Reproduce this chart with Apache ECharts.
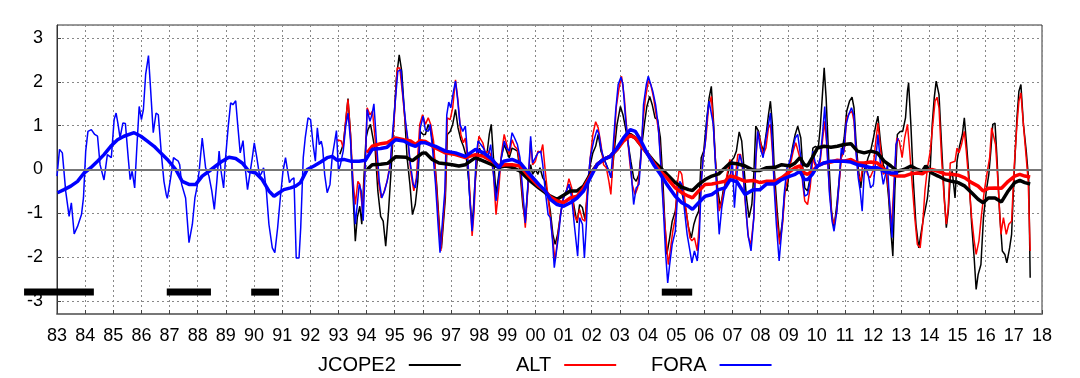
<!DOCTYPE html>
<html>
<head>
<meta charset="utf-8">
<script src="https://cdn.jsdelivr.net/npm/echarts@6/dist/echarts.min.js"></script>
<style>
  html, body { margin: 0; padding: 0; background: #fff; }
  #chart { width: 1080px; height: 378px; }
</style>
</head>
<body>
<div id="chart"></div>
<script>
// monthly-ish anomalies, [year, value]
const jcopeThin = [
  [1993.05,0.35],[1993.17,0.57],[1993.26,1.1],[1993.34,1.62],[1993.43,0.8],[1993.5,-0.34],[1993.6,-1.64],[1993.67,-1.1],[1993.76,-0.84],[1993.83,-1.25],[1993.9,-0.27],[1993.98,0.72],
  [1994.05,0.91],[1994.14,1.03],[1994.21,1.03],[1994.31,0.42],[1994.4,-0.49],[1994.5,-1.07],[1994.59,-1.18],[1994.68,-1.75],[1994.78,-0.95],[1994.87,-0.04],[1994.97,1.1],
  [1995.06,2.09],[1995.16,2.62],[1995.25,2.24],[1995.35,1.25],[1995.44,0.27],[1995.54,-0.34],[1995.63,-1.03],[1995.73,-0.8],[1995.82,-0.27],[1995.91,0.87],[1996.01,0.8],
  [1996.09,0.8],[1996.19,1.03],[1996.28,0.87],[1996.38,0.49],[1996.49,-0.34],[1996.59,-1.33],[1996.66,-1.8],[1996.8,-0.65],[1996.87,0.8],[1996.97,0.87],
  [1997.06,1.03],[1997.16,1.37],[1997.25,0.95],[1997.35,0.68],[1997.44,0.53],[1997.54,0.3],[1997.63,-0.27],[1997.7,-0.95],[1997.77,-1.18],[1997.84,-0.42],[1997.94,0.27],
  [1998.01,0.49],[1998.1,0.34],[1998.2,0.27],[1998.29,0.42],[1998.36,0.8],[1998.43,1.03],[1998.51,0.27],[1998.6,-0.57],[1998.7,-0.11],[1998.79,0.27],[1998.89,0.57],[1998.98,0.42],
  [1999.07,0.27],[1999.17,0.49],[1999.26,0.46],[1999.36,0.42],[1999.45,-0.04],[1999.55,-0.8],[1999.64,-1.18],[1999.74,-0.34],[1999.83,0.11],[1999.9,-0.11],
  [2000.0,0.0],[2000.09,-0.11],[2000.16,0.04],[2000.26,-0.19],[2000.35,-0.27],[2000.45,-0.65],[2000.53,-0.95],[2000.62,-1.48],[2000.7,-1.71],[2000.79,-1.48],[2000.89,-1.03],
  [2001.0,-0.61],[2001.1,-0.49],[2001.19,-0.34],[2001.29,-0.53],[2001.38,-0.87],[2001.48,-1.22],[2001.57,-0.8],[2001.67,-0.87],[2001.76,-1.14],[2001.86,-0.49],[2001.95,0.11],
  [2002.04,0.38],[2002.14,0.53],[2002.23,0.8],[2002.33,0.42],[2002.42,0.27],[2002.52,0.11],[2002.61,-0.04],[2002.71,-0.19],[2002.8,0.42],[2002.9,1.03],
  [2003.02,1.44],[2003.11,1.25],[2003.2,0.95],[2003.3,0.57],[2003.39,0.19],[2003.49,-0.19],[2003.58,-0.27],[2003.68,-0.11],[2003.77,0.49],[2003.87,1.03],[2003.96,1.44],
  [2004.06,1.67],[2004.15,1.48],[2004.25,1.18],[2004.34,1.14],[2004.44,0.72],[2004.53,-0.27],[2004.6,-1.25],[2004.67,-1.94],[2004.77,-1.56],[2004.86,-1.18],[2004.97,-0.95],
  [2005.06,-0.42],[2005.16,-0.42],[2005.25,-0.65],[2005.35,-0.95],[2005.44,-1.33],[2005.54,-1.56],[2005.63,-1.25],[2005.7,-1.1],[2005.8,-0.95],[2005.89,0.27],[2005.98,0.42],
  [2006.08,1.1],[2006.17,1.63],[2006.25,1.9],[2006.32,1.18],[2006.39,0.27],[2006.48,-0.49],[2006.58,-0.87],[2006.67,-0.49],[2006.77,-0.27],[2006.86,-0.04],[2006.95,0.19],
  [2007.05,0.27],[2007.14,0.42],[2007.24,0.86],[2007.33,0.65],[2007.43,-0.11],[2007.5,-0.65],[2007.59,-1.1],[2007.69,-0.8],[2007.76,-0.11],[2007.83,0.99],[2007.93,0.87],
  [2008.02,0.57],[2008.11,0.42],[2008.21,0.87],[2008.28,1.25],[2008.35,1.56],[2008.42,1.03],[2008.49,-0.04],[2008.59,-0.95],[2008.68,-1.63],[2008.78,-1.18],[2008.87,-0.42],[2008.94,-0.49],
  [2009.04,0.11],[2009.13,0.49],[2009.23,0.8],[2009.32,0.99],[2009.43,0.72],[2009.5,0.04],[2009.57,-0.42],[2009.67,-0.49],[2009.76,-0.19],[2009.86,0.49],[2009.95,0.53],
  [2010.05,0.49],[2010.12,0.95],[2010.19,1.63],[2010.26,2.32],[2010.33,1.63],[2010.42,0.27],[2010.52,-0.95],[2010.61,-1.33],[2010.71,-0.8],[2010.8,-0.19],[2010.87,0.34],[2010.97,0.72],
  [2011.06,1.33],[2011.16,1.56],[2011.25,1.65],[2011.32,1.41],[2011.39,0.65],[2011.47,0.04],[2011.56,-0.42],[2011.63,-0.04],[2011.73,0.04],[2011.82,0.27],[2011.91,0.42],
  [2012.01,0.72],[2012.1,1.03],[2012.17,1.22],[2012.27,0.57],[2012.36,0.11],[2012.46,-0.04],[2012.55,-0.65],[2012.63,-1.41],[2012.7,-1.98],[2012.77,-0.49],[2012.86,0.8],[2012.96,0.87],
  [2013.05,0.87],[2013.15,1.18],[2013.22,1.79],[2013.26,1.98],[2013.34,1.03],[2013.43,-0.27],[2013.52,-1.25],[2013.62,-1.79],[2013.69,-1.83],[2013.79,-1.1],[2013.84,-0.95],[2013.93,-0.65],
  [2014.03,0.04],[2014.1,1.03],[2014.17,1.63],[2014.24,2.02],[2014.34,1.71],[2014.43,0.57],[2014.53,-0.65],[2014.6,-1.33],[2014.67,-0.95],[2014.74,-0.19],[2014.81,-0.04],[2014.91,-0.65],[2014.98,0.19],
  [2015.07,0.53],[2015.17,0.8],[2015.24,1.18],[2015.31,0.65],[2015.4,-0.11],[2015.5,-1.25],[2015.59,-2.02],[2015.66,-2.74],[2015.73,-2.4],[2015.83,-2.17],[2015.92,-1.1],
  [2016.02,-0.49],[2016.11,-0.11],[2016.18,0.42],[2016.25,1.03],[2016.33,1.06],[2016.4,0.27],[2016.49,-0.95],[2016.59,-1.86],[2016.68,-1.94],[2016.75,-2.13],[2016.85,-1.79],[2016.92,-1.48],
  [2017.01,-0.11],[2017.11,1.18],[2017.18,1.79],[2017.25,1.94],[2017.34,1.03],[2017.44,0.42],[2017.53,-0.27],[2017.58,-2.47]
];

const altThin = [
  [1992.95,0.68],[1993.02,0.68],[1993.1,0.65],[1993.17,0.49],[1993.26,1.14],[1993.34,1.6],[1993.43,0.8],[1993.52,-0.27],[1993.6,-0.8],[1993.69,-0.27],[1993.76,-0.34],[1993.86,-0.95],[1993.95,0.11],
  [1994.02,1.41],[1994.12,1.25],[1994.21,1.33],[1994.31,0.65],[1994.42,-0.27],[1994.52,-0.65],[1994.61,-0.53],[1994.73,-0.27],[1994.85,0.19],[1994.97,1.03],
  [1995.09,2.32],[1995.18,2.32],[1995.28,1.71],[1995.37,1.1],[1995.47,0.65],[1995.58,-0.11],[1995.68,-0.49],[1995.77,-0.19],[1995.89,1.03],[1995.99,1.25],
  [1996.09,1.03],[1996.19,1.18],[1996.28,1.03],[1996.38,0.65],[1996.47,-0.27],[1996.57,-1.25],[1996.64,-1.86],[1996.71,-1.86],[1996.8,-0.49],[1996.87,1.18],[1996.97,1.14],
  [1997.06,1.41],[1997.16,2.05],[1997.25,1.56],[1997.35,0.8],[1997.44,0.61],[1997.51,0.72],[1997.61,0.11],[1997.68,-0.65],[1997.75,-1.52],[1997.82,-0.95],[1997.89,0.11],[1997.99,0.76],
  [1998.06,0.72],[1998.13,0.61],[1998.22,0.38],[1998.34,0.42],[1998.41,0.34],[1998.51,-0.11],[1998.6,-1.03],[1998.7,-0.42],[1998.79,0.34],[1998.89,0.8],[1998.98,0.57],
  [1999.07,0.34],[1999.17,0.68],[1999.26,0.53],[1999.36,0.46],[1999.45,0.11],[1999.55,-0.65],[1999.64,-1.33],[1999.74,-0.34],[1999.83,0.65],[1999.9,0.11],
  [2000.0,0.19],[2000.09,0.42],[2000.19,0.38],[2000.26,0.57],[2000.35,-0.04],[2000.45,-0.65],[2000.53,-1.1],[2000.62,-1.63],[2000.7,-2.09],[2000.79,-1.56],[2000.89,-1.03],
  [2001.0,-0.65],[2001.1,-0.49],[2001.19,-0.21],[2001.29,-0.42],[2001.38,-1.03],[2001.48,-1.18],[2001.57,-0.91],[2001.67,-1.14],[2001.76,-1.18],[2001.86,-0.34],[2001.95,0.27],
  [2002.04,0.8],[2002.14,1.09],[2002.23,0.95],[2002.33,0.57],[2002.42,0.11],[2002.52,0.04],[2002.61,-0.27],[2002.68,-0.57],[2002.78,0.42],[2002.87,1.41],[2002.97,1.86],
  [2003.06,2.13],[2003.16,1.63],[2003.25,0.87],[2003.35,0.19],[2003.44,-0.34],[2003.54,-0.57],[2003.63,-0.42],[2003.73,0.11],[2003.82,1.1],[2003.91,1.63],
  [2004.01,2.02],[2004.1,1.94],[2004.2,1.63],[2004.29,1.25],[2004.39,0.8],[2004.48,-0.11],[2004.58,-1.1],[2004.65,-1.63],[2004.72,-2.17],[2004.79,-1.86],[2004.88,-1.41],[2004.97,-1.1],
  [2005.04,-0.34],[2005.11,0.0],[2005.2,-0.11],[2005.3,-0.65],[2005.39,-1.1],[2005.49,-1.56],[2005.56,-1.63],[2005.65,-1.56],[2005.75,-1.86],[2005.82,-1.25],[2005.89,-0.27],[2005.96,0.27],
  [2006.06,0.72],[2006.15,1.41],[2006.25,1.67],[2006.32,1.03],[2006.39,0.27],[2006.46,-0.49],[2006.53,-0.95],[2006.62,-0.72],[2006.72,-0.42],[2006.81,-0.11],[2006.91,0.23],
  [2007.0,-0.11],[2007.1,-0.19],[2007.19,0.34],[2007.29,0.34],[2007.38,-0.11],[2007.48,-0.95],[2007.57,-1.56],[2007.66,-1.71],[2007.76,-1.1],[2007.83,0.19],[2007.9,0.87],
  [2008.0,0.61],[2008.09,0.34],[2008.19,0.49],[2008.28,0.95],[2008.35,1.03],[2008.42,0.42],[2008.49,-0.34],[2008.59,-1.18],[2008.68,-1.71],[2008.78,-1.25],[2008.87,-0.49],[2008.97,-0.19],
  [2009.06,0.11],[2009.16,0.42],[2009.25,0.61],[2009.32,0.65],[2009.43,0.19],[2009.5,-0.34],[2009.57,-0.72],[2009.67,-0.8],[2009.76,-0.42],[2009.86,0.27],[2009.93,0.11],
  [2010.02,0.04],[2010.12,0.19],[2010.21,0.72],[2010.28,1.1],[2010.35,0.57],[2010.45,-0.49],[2010.54,-1.1],[2010.61,-1.25],[2010.71,-0.95],[2010.8,-0.27],[2010.87,0.27],[2010.97,0.42],
  [2011.06,1.18],[2011.16,1.29],[2011.25,1.33],[2011.32,1.1],[2011.39,0.42],[2011.47,-0.11],[2011.56,-0.27],[2011.63,0.11],[2011.73,0.11],[2011.8,-0.11],[2011.89,-0.19],[2011.99,-0.04],
  [2012.08,0.57],[2012.17,1.06],[2012.27,0.42],[2012.36,-0.11],[2012.46,-0.04],[2012.55,-0.49],[2012.65,-1.33],[2012.74,-0.34],[2012.84,0.72],[2012.93,0.65],
  [2013.03,0.27],[2013.12,0.72],[2013.22,1.03],[2013.29,0.49],[2013.38,-0.27],[2013.48,-1.1],[2013.57,-1.71],[2013.67,-1.79],[2013.76,-1.25],[2013.84,-0.49],[2013.93,0.04],
  [2014.03,0.42],[2014.12,1.03],[2014.2,1.56],[2014.27,1.65],[2014.34,1.41],[2014.43,0.27],[2014.53,-0.72],[2014.6,-1.25],[2014.67,-0.87],[2014.74,0.15],[2014.81,0.11],[2014.91,0.19],[2014.98,0.49],
  [2015.05,0.38],[2015.14,0.57],[2015.24,0.87],[2015.31,0.42],[2015.4,-0.27],[2015.5,-1.1],[2015.59,-1.63],[2015.66,-1.94],[2015.76,-1.63],[2015.85,-1.03],[2015.95,-0.49],
  [2016.04,-0.11],[2016.14,0.27],[2016.21,0.95],[2016.28,0.99],[2016.35,0.57],[2016.44,-0.34],[2016.54,-1.48],[2016.63,-1.1],[2016.73,-1.48],[2016.82,-1.25],[2016.92,-1.18],
  [2017.01,0.04],[2017.11,1.03],[2017.18,1.56],[2017.25,1.75],[2017.32,1.18],[2017.41,0.49],[2017.51,-0.27],[2017.58,-1.86]
];

const foraThin = [
  [1983.0,-0.15],[1983.09,0.46],[1983.19,0.38],[1983.31,-0.5],[1983.43,-1.07],[1983.51,-0.76],[1983.61,-1.47],[1983.73,-1.3],[1983.87,-1.03],[1983.94,-0.65],
  [1984.02,0.42],[1984.1,0.87],[1984.22,0.91],[1984.34,0.8],[1984.44,0.76],[1984.53,0.11],[1984.67,-0.24],[1984.79,0.34],[1984.86,0.3],[1984.93,0.27],
  [1985.03,1.14],[1985.1,1.29],[1985.17,1.03],[1985.24,0.72],[1985.34,1.06],[1985.43,1.05],[1985.53,0.27],[1985.6,-0.23],[1985.67,-0.04],[1985.76,-0.42],[1985.83,0.42],[1985.92,1.44],
  [1986.0,1.14],[1986.07,1.37],[1986.15,2.17],[1986.25,2.6],[1986.33,1.79],[1986.42,0.84],[1986.52,1.29],[1986.6,1.25],[1986.71,0.34],[1986.8,-0.27],[1986.88,-0.57],[1986.92,-0.66],
  [1987.02,-0.27],[1987.14,0.27],[1987.22,0.23],[1987.31,0.19],[1987.36,0.11],[1987.43,-0.34],[1987.57,-0.65],[1987.69,-1.67],[1987.81,-1.25],[1987.9,-0.65],[1987.97,-0.42],
  [1988.05,-0.04],[1988.16,0.72],[1988.28,0.04],[1988.4,-0.15],[1988.5,-0.49],[1988.59,-0.91],[1988.68,-0.27],[1988.76,0.42],[1988.83,-0.04],[1988.92,-0.42],[1988.99,0.27],
  [1989.08,0.95],[1989.17,1.52],[1989.25,1.48],[1989.35,1.57],[1989.42,1.03],[1989.51,0.38],[1989.61,0.66],[1989.7,-0.04],[1989.77,-0.46],[1989.84,-0.42],[1989.94,0.27],
  [1990.01,0.61],[1990.1,0.27],[1990.2,-0.15],[1990.27,-0.08],[1990.34,0.04],[1990.44,-0.49],[1990.53,-1.25],[1990.65,-1.79],[1990.74,-1.9],[1990.84,-1.33],[1990.93,-0.68],
  [1991.03,-0.04],[1991.12,0.27],[1991.18,0.3],[1991.26,-0.3],[1991.33,-0.23],[1991.42,-0.19],[1991.5,-2.02],[1991.6,-2.02],[1991.66,-1.33],[1991.75,0.27],[1991.82,0.72],[1991.92,1.18],
  [1992.01,1.14],[1992.1,0.57],[1992.18,0.19],[1992.25,0.95],[1992.32,0.57],[1992.39,0.65],[1992.44,0.49],[1992.51,-0.11],[1992.6,-0.53],[1992.7,-0.34],[1992.78,0.3],[1992.86,0.61],[1992.93,0.89],
  [1993.0,-0.04],[1993.07,0.11],[1993.17,0.42],[1993.26,0.99],[1993.34,1.29],[1993.43,0.65],[1993.52,-0.42],[1993.6,-1.25],[1993.67,-0.8],[1993.74,-0.34],[1993.81,-0.49],[1993.88,-1.17],[1993.95,0.04],
  [1994.02,1.37],[1994.12,1.1],[1994.19,1.25],[1994.26,1.5],[1994.35,0.65],[1994.45,-0.27],[1994.54,-0.65],[1994.64,-0.49],[1994.73,-0.27],[1994.83,0.04],[1994.92,0.8],
  [1995.02,1.56],[1995.11,2.24],[1995.22,2.28],[1995.28,1.79],[1995.37,1.18],[1995.46,0.72],[1995.56,0.11],[1995.66,-0.34],[1995.73,-0.42],[1995.82,-0.04],[1995.91,0.95],
  [1996.01,1.22],[1996.09,0.9],[1996.19,0.87],[1996.26,1.03],[1996.35,0.42],[1996.45,-0.34],[1996.54,-1.25],[1996.61,-1.9],[1996.68,-1.9],[1996.78,-0.49],[1996.85,1.25],[1996.92,1.54],[1996.99,1.41],
  [1997.09,1.79],[1997.16,2.02],[1997.23,1.63],[1997.32,1.03],[1997.42,0.87],[1997.51,0.99],[1997.58,0.42],[1997.65,-0.49],[1997.75,-1.41],[1997.82,-0.8],[1997.89,0.27],[1997.96,0.65],
  [1998.06,0.57],[1998.15,0.49],[1998.25,0.34],[1998.33,0.34],[1998.41,0.57],[1998.51,-0.11],[1998.6,-0.72],[1998.7,-0.19],[1998.79,0.27],[1998.89,0.65],[1998.98,0.49],
  [1999.07,0.42],[1999.17,0.84],[1999.26,0.72],[1999.36,0.57],[1999.45,0.27],[1999.55,-0.49],[1999.64,-1.22],[1999.74,-0.27],[1999.83,0.76],[1999.9,0.15],
  [2000.0,0.27],[2000.09,0.38],[2000.19,0.42],[2000.26,0.11],[2000.35,-0.49],[2000.45,-1.03],[2000.53,-1.1],[2000.6,-1.56],[2000.67,-2.24],[2000.74,-2.24],[2000.81,-1.56],[2000.91,-0.95],
  [2001.0,-0.65],[2001.1,-0.49],[2001.19,-0.34],[2001.29,-0.65],[2001.38,-1.25],[2001.5,-1.98],[2001.57,-1.1],[2001.67,-1.25],[2001.74,-2.02],[2001.81,-1.25],[2001.88,-0.19],[2001.95,0.27],
  [2002.07,0.65],[2002.19,0.91],[2002.26,0.8],[2002.33,0.49],[2002.42,0.27],[2002.52,0.11],[2002.61,-0.04],[2002.68,-0.19],[2002.75,0.42],[2002.85,1.33],[2002.94,1.94],
  [2003.04,2.11],[2003.11,1.94],[2003.2,1.18],[2003.3,0.57],[2003.39,0.04],[2003.49,-0.8],[2003.58,-0.42],[2003.68,-0.34],[2003.77,0.49],[2003.84,1.48],[2003.94,1.94],
  [2004.01,2.13],[2004.08,2.09],[2004.17,1.79],[2004.27,1.48],[2004.36,1.03],[2004.46,0.04],[2004.55,-0.95],[2004.62,-1.86],[2004.7,-2.59],[2004.77,-2.17],[2004.86,-1.71],[2004.97,-1.41],
  [2005.06,-0.49],[2005.13,-0.27],[2005.2,-0.34],[2005.3,-0.95],[2005.39,-1.48],[2005.49,-1.86],[2005.56,-2.13],[2005.65,-1.86],[2005.75,-2.09],[2005.82,-1.56],[2005.89,-0.34],[2005.96,0.27],
  [2006.03,0.57],[2006.1,1.18],[2006.17,1.56],[2006.24,1.6],[2006.32,1.03],[2006.39,0.19],[2006.46,-0.72],[2006.53,-1.48],[2006.62,-0.87],[2006.72,-0.49],[2006.81,-0.27],[2006.91,-0.19],
  [2007.0,0.19],[2007.07,-0.87],[2007.17,-0.04],[2007.26,0.34],[2007.36,0.11],[2007.45,-0.65],[2007.55,-1.48],[2007.66,-1.86],[2007.76,-1.1],[2007.83,0.27],[2007.9,0.87],[2007.99,0.49],
  [2008.09,0.27],[2008.19,0.72],[2008.28,1.03],[2008.35,1.29],[2008.42,0.57],[2008.49,-0.49],[2008.56,-1.25],[2008.66,-2.09],[2008.75,-1.41],[2008.85,-0.49],[2008.94,0.04],
  [2009.04,0.19],[2009.13,0.42],[2009.23,0.72],[2009.32,0.8],[2009.43,0.27],[2009.5,-0.27],[2009.57,-0.61],[2009.67,-0.57],[2009.76,-0.27],[2009.86,0.42],[2009.93,0.19],
  [2010.02,0.04],[2010.12,0.27],[2010.21,0.87],[2010.28,1.44],[2010.35,0.65],[2010.45,-0.57],[2010.54,-1.18],[2010.61,-1.41],[2010.71,-0.95],[2010.8,-0.19],[2010.87,0.49],[2010.94,0.34],
  [2011.04,1.03],[2011.13,1.25],[2011.23,1.41],[2011.32,1.22],[2011.39,0.42],[2011.47,-0.19],[2011.54,-0.49],[2011.61,-0.95],[2011.68,-0.11],[2011.75,0.04],[2011.82,-0.11],[2011.91,-0.42],
  [2012.01,-0.34],[2012.1,0.27],[2012.17,0.8],[2012.27,0.04],[2012.36,-0.34],[2012.44,-0.11],[2012.51,0.11],[2012.58,-0.72],[2012.67,-1.56],[2012.74,-0.49],[2012.81,0.57],[2012.89,0.72]
];

// running means (thick lines)
const jcopeMean = [
  [1994.02,0.0],[1994.2,0.11],[1994.5,0.12],[1994.75,0.14],[1995.03,0.29],[1995.4,0.28],[1995.63,0.2],[1995.97,0.37],[1996.09,0.38],[1996.33,0.23],[1996.57,0.15],[1996.8,0.13],
  [1997.04,0.11],[1997.28,0.08],[1997.51,0.11],[1997.87,0.27],[1998.16,0.19],[1998.46,0.11],[1998.7,0.05],[1998.93,0.08],[1999.17,0.05],[1999.46,-0.04],[1999.76,-0.23],
  [2000.12,-0.42],[2000.35,-0.53],[2000.53,-0.61],[2000.77,-0.68],[2001.0,-0.59],[2001.24,-0.49],[2001.48,-0.49],[2001.71,-0.38],[2001.95,-0.11],[2002.19,0.11],[2002.42,0.23],
  [2002.66,0.3],[2002.9,0.46],[2003.13,0.68],[2003.37,0.8],[2003.55,0.72],[2003.73,0.57],[2003.96,0.38],[2004.2,0.19],[2004.44,0.04],[2004.67,-0.11],[2004.97,-0.3],
  [2005.2,-0.4],[2005.44,-0.46],[2005.58,-0.48],[2005.8,-0.34],[2006.03,-0.23],[2006.27,-0.15],[2006.51,-0.1],[2006.74,0.04],[2006.92,0.15],[2007.16,0.13],[2007.45,0.08],
  [2007.75,-0.02],[2007.98,-0.02],[2008.22,0.04],[2008.52,0.05],[2008.75,0.11],[2009.05,0.08],[2009.23,0.15],[2009.4,0.27],[2009.55,0.11],[2009.67,0.08],[2009.84,0.27],
  [2010.02,0.49],[2010.26,0.53],[2010.5,0.51],[2010.73,0.53],[2010.97,0.57],[2011.21,0.59],[2011.44,0.42],[2011.68,0.38],[2011.92,0.42],[2012.15,0.38],[2012.39,0.19],
  [2012.63,0.08],[2012.86,-0.04],[2013.1,0.0],[2013.34,0.08],[2013.57,0.0],[2013.75,-0.04],[2013.87,0.08],[2014.08,-0.08],[2014.31,-0.15],[2014.55,-0.23],[2014.79,-0.27],
  [2015.02,-0.3],[2015.26,-0.38],[2015.5,-0.53],[2015.73,-0.68],[2015.91,-0.76],[2016.09,-0.65],[2016.33,-0.65],[2016.56,-0.74],[2016.8,-0.49],[2017.03,-0.3],[2017.21,-0.25],
  [2017.39,-0.3],[2017.58,-0.33]
];

const altMean = [
  [1994.02,0.38],[1994.2,0.53],[1994.5,0.59],[1994.73,0.61],[1995.03,0.72],[1995.32,0.68],[1995.56,0.65],[1995.74,0.57],[1995.91,0.66],[1996.09,0.64],[1996.45,0.49],[1996.8,0.38],
  [1997.16,0.34],[1997.51,0.27],[1997.87,0.34],[1998.16,0.3],[1998.46,0.19],[1998.7,0.08],[1998.93,0.11],[1999.17,0.11],[1999.46,0.08],[1999.76,-0.15],[2000.12,-0.38],
  [2000.35,-0.49],[2000.53,-0.63],[2000.77,-0.72],[2001.0,-0.76],[2001.24,-0.65],[2001.48,-0.61],[2001.71,-0.42],[2001.95,-0.15],[2002.19,0.11],[2002.42,0.23],[2002.66,0.3],
  [2002.9,0.46],[2003.13,0.65],[2003.37,0.78],[2003.55,0.72],[2003.73,0.57],[2003.96,0.38],[2004.2,0.15],[2004.44,-0.04],[2004.67,-0.19],[2004.97,-0.42],[2005.2,-0.53],
  [2005.44,-0.61],[2005.58,-0.65],[2005.8,-0.49],[2006.03,-0.34],[2006.27,-0.33],[2006.51,-0.3],[2006.74,-0.27],[2006.92,-0.15],[2007.16,-0.19],[2007.45,-0.27],[2007.75,-0.25],
  [2007.98,-0.3],[2008.22,-0.27],[2008.52,-0.27],[2008.75,-0.19],[2009.05,-0.04],[2009.23,0.04],[2009.4,0.08],[2009.55,-0.08],[2009.67,-0.11],[2009.84,-0.04],[2010.02,0.08],
  [2010.26,0.15],[2010.5,0.17],[2010.73,0.21],[2010.97,0.19],[2011.21,0.23],[2011.44,0.15],[2011.68,0.15],[2011.92,0.17],[2012.15,0.15],[2012.39,0.0],[2012.63,-0.11],
  [2012.86,-0.15],[2013.1,-0.15],[2013.34,-0.1],[2013.57,-0.08],[2013.75,-0.1],[2013.87,-0.04],[2014.08,0.0],[2014.31,-0.04],[2014.55,-0.1],[2014.79,-0.11],[2015.02,-0.13],
  [2015.26,-0.19],[2015.5,-0.3],[2015.73,-0.38],[2015.91,-0.49],[2016.09,-0.43],[2016.33,-0.42],[2016.56,-0.43],[2016.8,-0.27],[2017.03,-0.15],[2017.21,-0.11],[2017.39,-0.15],
  [2017.58,-0.17]
];

const foraMean = [
  [1983.02,-0.53],[1983.25,-0.46],[1983.49,-0.38],[1983.73,-0.27],[1983.96,-0.08],[1984.2,0.04],[1984.44,0.19],[1984.67,0.34],[1984.91,0.53],[1985.15,0.68],[1985.38,0.76],
  [1985.74,0.84],[1985.98,0.76],[1986.21,0.65],[1986.45,0.53],[1986.68,0.38],[1986.92,0.23],[1987.22,0.0],[1987.45,-0.27],[1987.69,-0.34],[1987.93,-0.34],[1988.16,-0.15],
  [1988.4,-0.04],[1988.64,0.08],[1988.87,0.19],[1989.11,0.28],[1989.35,0.25],[1989.58,0.15],[1989.82,-0.04],[1990.06,-0.08],[1990.29,-0.23],[1990.53,-0.49],[1990.71,-0.61],
  [1990.89,-0.53],[1991.06,-0.46],[1991.3,-0.42],[1991.48,-0.38],[1991.65,-0.3],[1991.89,0.0],[1992.13,0.08],[1992.37,0.17],[1992.6,0.27],[1992.78,0.3],[1992.96,0.21],
  [1993.19,0.23],[1993.43,0.19],[1993.73,0.19],[1993.96,0.21],[1994.2,0.46],[1994.5,0.48],[1994.73,0.51],[1995.03,0.68],[1995.32,0.65],[1995.56,0.57],[1995.74,0.53],
  [1995.91,0.61],[1996.09,0.61],[1996.45,0.53],[1996.8,0.42],[1997.16,0.38],[1997.51,0.3],[1997.87,0.46],[1998.16,0.38],[1998.46,0.23],[1998.7,0.04],[1998.87,0.19],
  [1999.17,0.23],[1999.46,0.15],[1999.76,-0.08],[2000.12,-0.34],[2000.35,-0.49],[2000.53,-0.68],[2000.77,-0.8],[2001.0,-0.84],[2001.24,-0.76],[2001.48,-0.65],[2001.71,-0.49],
  [2001.95,-0.19],[2002.19,0.11],[2002.42,0.23],[2002.66,0.3],[2002.9,0.49],[2003.13,0.72],[2003.37,0.91],[2003.55,0.87],[2003.73,0.68],[2003.96,0.38],[2004.2,0.11],
  [2004.44,-0.11],[2004.67,-0.34],[2004.97,-0.61],[2005.2,-0.76],[2005.44,-0.84],[2005.58,-0.91],[2005.8,-0.76],[2006.03,-0.61],[2006.27,-0.57],[2006.51,-0.46],[2006.74,-0.42],
  [2006.92,-0.23],[2007.16,-0.28],[2007.45,-0.57],[2007.75,-0.46],[2007.98,-0.46],[2008.22,-0.33],[2008.52,-0.33],[2008.75,-0.23],[2009.05,-0.15],[2009.23,-0.11],[2009.4,-0.04],
  [2009.55,-0.23],[2009.67,-0.23],[2009.84,-0.11],[2010.02,0.08],[2010.26,0.15],[2010.5,0.19],[2010.73,0.19],[2010.97,0.19],[2011.21,0.17],[2011.44,0.11],[2011.68,0.08],
  [2011.92,0.04],[2012.15,0.04],[2012.39,-0.04],[2012.63,-0.08],[2012.89,-0.08]
];

// black bars near the bottom: [start, end] in years
const periods = [[1981.83, 1984.31], [1986.9, 1988.47], [1989.9, 1990.89], [2004.49, 2005.57]];
const periodLevel = -2.8;

const chart = echarts.init(document.getElementById('chart'));
const font = "'Liberation Sans', Arial, sans-serif";

function line(name, data, color, width) {
  return {
    name: name,
    type: 'line',
    data: data,
    symbol: 'none',
    lineStyle: { color: color, width: width },
    itemStyle: { color: color },
    silent: true
  };
}

const series = [
  line('JCOPE2', jcopeThin, '#000000', 1.5),
  line('ALT', altThin, '#ff0000', 1.5),
  line('FORA', foraThin, '#0000ff', 1.5),
  line('JCOPE2 mean', jcopeMean, '#000000', 3.5),
  line('ALT mean', altMean, '#ff0000', 3.5),
  line('FORA mean', foraMean, '#0000ff', 3.5)
];
// zero line
series[0].markLine = {
  silent: true,
  symbol: 'none',
  label: { show: false },
  lineStyle: { color: '#777', width: 2, type: 'solid' },
  data: [{ yAxis: 0 }]
};
// periods drawn as thick bars, the first one runs past the left edge
series.push({
  name: 'periods',
  type: 'custom',
  clip: false,
  silent: true,
  data: periods.map(function (p) { return [p[0], p[1], periodLevel]; }),
  encode: { x: [0, 1], y: 2 },
  renderItem: function (params, api) {
    const a = api.coord([api.value(0), api.value(2)]);
    const b = api.coord([api.value(1), api.value(2)]);
    return {
      type: 'rect',
      shape: { x: a[0], y: a[1] - 3.5, width: b[0] - a[0], height: 7 },
      style: { fill: '#000' }
    };
  }
});

function legendFor(name, left) {
  return {
    data: [name],
    left: left,
    top: 350,
    align: 'right',
    icon: 'rect',
    itemWidth: 52,
    itemHeight: 2,
    selectedMode: false,
    textStyle: { fontFamily: font, fontSize: 20, color: '#000', padding: [0, 8, 0, 0] }
  };
}

chart.setOption({
  animation: false,
  backgroundColor: '#fff',
  legend: [legendFor('JCOPE2', 313), legendFor('ALT', 511), legendFor('FORA', 646)],
  grid: {
    left: 57, right: 38, top: 25, bottom: 64,
    show: true, borderColor: '#333', borderWidth: 1
  },
  xAxis: {
    type: 'value',
    min: 1983,
    max: 2018,
    interval: 1,
    axisLine: { onZero: false, lineStyle: { color: '#777', width: 2 } },
    axisTick: { inside: true, length: 4, lineStyle: { color: '#444' } },
    axisLabel: {
      margin: 13,
      fontFamily: font,
      fontSize: 18,
      color: '#000',
      formatter: function (v) { return String(Math.round(v) % 100).padStart(2, '0'); }
    },
    splitLine: { show: true, lineStyle: { color: '#888', type: [2, 3], width: 1 } }
  },
  yAxis: {
    type: 'value',
    min: -3.3,
    max: 3.3,
    splitNumber: 6,
    axisLine: { show: true, lineStyle: { color: '#333' } },
    axisTick: { inside: true, length: 4, lineStyle: { color: '#444' } },
    axisLabel: {
      margin: 14,
      fontFamily: font,
      fontSize: 18,
      color: '#000',
      showMinLabel: false,
      showMaxLabel: false,
      formatter: function (v) { return Number.isInteger(v) ? String(v) : ''; }
    },
    splitLine: { show: true, lineStyle: { color: '#888', type: [2, 3], width: 1 } }
  },
  series: series
});
</script>
</body>
</html>
